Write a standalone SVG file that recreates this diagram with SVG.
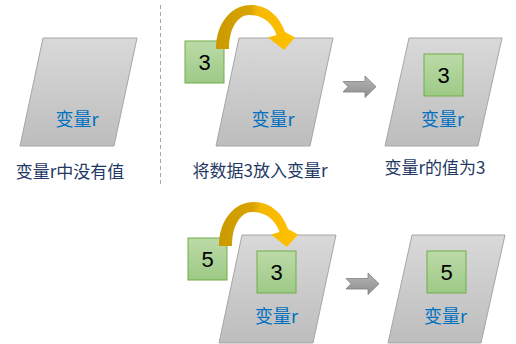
<svg xmlns="http://www.w3.org/2000/svg" width="516" height="344" viewBox="0 0 516 344">
<style>
.para{fill:url(#gGray);stroke:#A6A6A6;stroke-width:1}
.box{fill:url(#gGreen);stroke:#70AD47;stroke-width:1}
.num{font-family:"Liberation Sans","Noto Sans",sans-serif;font-size:22px;fill:#000;text-anchor:middle}
.lab{font-family:"Noto Sans CJK SC","Noto Sans",sans-serif;font-size:18px;fill:#0070C0;text-anchor:middle}
.cap{font-family:"Noto Sans CJK SC","Noto Sans",sans-serif;font-size:17px;fill:#1F3864;text-anchor:middle}
.garrow{fill:url(#gArrow);stroke:#7F7F7F;stroke-width:0.8}
.carrow{fill:url(#gGold)}
</style>
<defs>
<linearGradient id="gGray" x1="0" y1="0" x2="0" y2="1">
<stop offset="0" stop-color="#D9D9D9"/><stop offset="1" stop-color="#BDBDBD"/>
</linearGradient>
<linearGradient id="gGreen" x1="0" y1="0" x2="0" y2="1">
<stop offset="0" stop-color="#BCDAA8"/><stop offset="1" stop-color="#9DCA86"/>
</linearGradient>
<linearGradient id="gArrow" x1="0" y1="0" x2="0" y2="1">
<stop offset="0" stop-color="#B5B5B5"/><stop offset="1" stop-color="#8F8F8F"/>
</linearGradient>
<linearGradient id="gGold" gradientUnits="userSpaceOnUse" x1="216" y1="0" x2="292" y2="0">
<stop offset="0" stop-color="#C99A00"/><stop offset="0.45" stop-color="#D9A300"/><stop offset="0.55" stop-color="#F5B800"/><stop offset="1" stop-color="#FFC000"/>
</linearGradient>
</defs>
<line x1="160.5" y1="5" x2="160.5" y2="184" stroke="#A6A6A6" stroke-width="1" stroke-dasharray="4,3"/>
<g id="node-var-empty">
<polygon class="para" points="43,38 137,38 114,146 20,146"/>
<text class="lab" x="77" y="126">变量r</text>
<text class="cap" x="70" y="178">变量r中没有值</text>
</g>
<g id="node-var-put3">
<polygon class="para" points="239,38 333,38 310,146 216,146"/>
<text class="lab" x="273" y="126">变量r</text>
<text class="cap" x="260" y="177">将数据3放入变量r</text>
</g>
<g id="node-num3">
<rect class="box" x="185" y="41" width="39" height="42"/>
<text class="num" x="204.5" y="70">3</text>
</g>
<g id="node-var-is3">
<polygon class="para" points="409,38 502,38 478,146 385,146"/>
<rect class="box" x="424" y="54" width="39" height="42"/>
<text class="num" x="443.5" y="83">3</text>
<text class="lab" x="442.5" y="126">变量r</text>
<text class="cap" x="435" y="173.5">变量r的值为3</text>
</g>
<g id="node-var-put5">
<polygon class="para" points="242,235 336,235 313,343 219,343"/>
<rect class="box" x="257" y="251" width="39" height="42"/>
<text class="num" x="276.5" y="280">3</text>
<text class="lab" x="276.5" y="322.5">变量r</text>
</g>
<g id="node-num5">
<rect class="box" x="188" y="238" width="39" height="42"/>
<text class="num" x="207.5" y="267">5</text>
</g>
<g id="node-var-is5">
<polygon class="para" points="412,235 505,235 481,343 388,343"/>
<rect class="box" x="427" y="251" width="39" height="42"/>
<text class="num" x="446.5" y="280">5</text>
<text class="lab" x="445.5" y="323">变量r</text>
</g>
<g id="connectors">
<path class="carrow" d="M216,49 C216,22 232,5 251,5 C268,5 280,17 285,32 L295,37.5 L284,50 L268,37.5 L276.5,35 C272,22 262,15 249,15 C238,15 229,28 229,49 Z"/>
<path class="carrow" transform="translate(3,197)" d="M216,49 C216,22 232,5 251,5 C268,5 280,17 285,32 L295,37.5 L284,50 L268,37.5 L276.5,35 C272,22 262,15 249,15 C238,15 229,28 229,49 Z"/>
<path class="garrow" d="M343,81.5 L365,81.5 L365,76 L376,86.7 L365,97.5 L365,92 L343,92 L348,86.7 Z"/>
<path class="garrow" d="M346,278.5 L368,278.5 L368,273 L379,283.7 L368,294.5 L368,289 L346,289 L351,283.7 Z"/>
</g>
</svg>
